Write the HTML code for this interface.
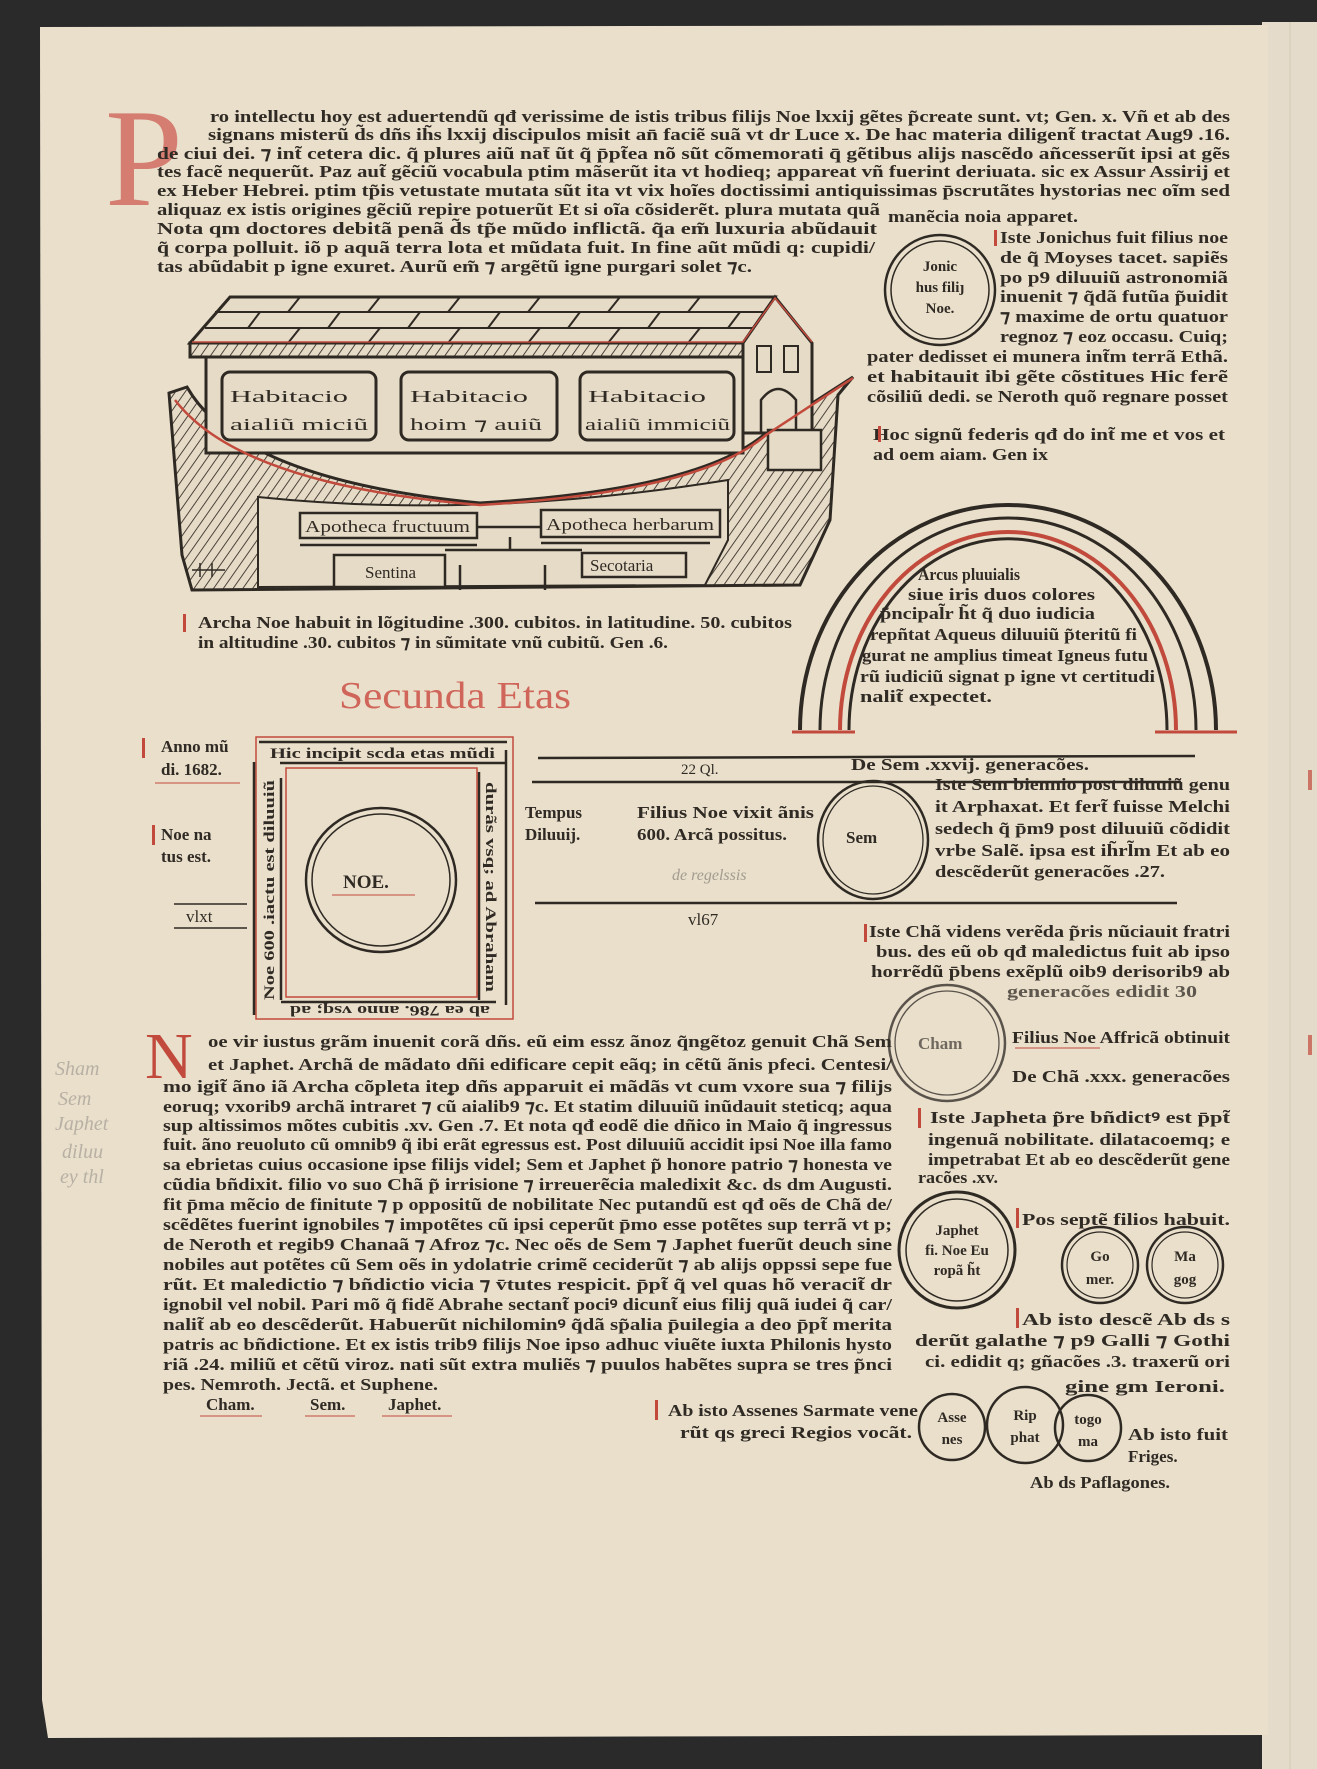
<!DOCTYPE html>
<html><head><meta charset="utf-8"><style>
html,body{margin:0;padding:0;background:#2a2a2b;}
body{width:1317px;height:1769px;position:relative;overflow:hidden;}
svg{position:absolute;left:0;top:0;}
.t{font-family:"Liberation Serif",serif;font-weight:bold;fill:#302a24;font-size:17px;}
.s{font-size:15px;}
</style></head><body>
<svg width="1317" height="1769" viewBox="0 0 1317 1769">
<defs>
<pattern id="h" width="8" height="8" patternUnits="userSpaceOnUse" patternTransform="rotate(35)"><rect width="8" height="8" fill="#e6dbc6"/><line x1="0" y1="0" x2="0" y2="8" stroke="#3a332c" stroke-width="1.8"/></pattern>
</defs>
<rect x="1262" y="22" width="55" height="1747" fill="#e4dbca"/>
<line x1="1290" y1="22" x2="1290" y2="1769" stroke="#d2c8b6" stroke-width="1"/>
<path d="M40 27 L1268 25 L1268 1735 L48 1738 L42 1700 Z" fill="#e9dfcb"/>

<!-- top initial -->
<text x="105" y="205" font-family="Liberation Serif,serif" font-size="140" fill="#d0655a" opacity="0.8" style="font-weight:normal">P</text>
<g class="t">
<text x="210" y="122" textLength="1020" lengthAdjust="spacingAndGlyphs">ro intellectu hoy est aduertendũ qđ verissime de istis tribus filijs Noe lxxij gẽtes p̃create sunt. vt; Gen. x. Vñ et ab des</text>
<text x="208" y="140" textLength="1022" lengthAdjust="spacingAndGlyphs">signans misterũ d̃s dñs ih̃s lxxij discipulos misit an̄ faciẽ suã vt dr Luce x. De hac materia diligent̃ tractat Aug9 .16.</text>
<text x="157" y="159" textLength="1073" lengthAdjust="spacingAndGlyphs">de ciui dei. ⁊ int̃ cetera dic. q̃ plures aiũ nat̄ ũt q̃ p̄pt̃ea nõ sũt cõmemorati q̄ gẽtibus alijs nascẽdo añcesserũt ipsi at gẽs</text>
<text x="157" y="177" textLength="1073" lengthAdjust="spacingAndGlyphs">tes facẽ nequerũt. Paz aut̃ gẽciũ vocabula ptim mãserũt ita vt hodieq; appareat vñ fuerint deriuata. sic ex Assur Assirij et</text>
<text x="157" y="196" textLength="1073" lengthAdjust="spacingAndGlyphs">ex Heber Hebrei. ptim tp̃is vetustate mutata sũt ita vt vix hoĩes doctissimi antiquissimas p̄scrutãtes hystorias nec oĩm sed</text>
<text x="157" y="215" textLength="723" lengthAdjust="spacingAndGlyphs">aliquaz ex istis origines gẽciũ repire potuerũt Et si oĩa cõsiderẽt. plura mutata quã</text>
<text x="888" y="222" textLength="190" lengthAdjust="spacingAndGlyphs">manẽcia noia apparet.</text>
<text x="157" y="234" textLength="720" lengthAdjust="spacingAndGlyphs">Nota qm doctores debitã penã d̃s tp̃e mũdo inflictã. q̃a em̃ luxuria abũdauit</text>
<text x="157" y="253" textLength="718" lengthAdjust="spacingAndGlyphs">q̃ corpa polluit. iõ p aquã terra lota et mũdata fuit. In fine aũt mũdi q: cupidi/</text>
<text x="157" y="272" textLength="595" lengthAdjust="spacingAndGlyphs">tas abũdabit p igne exuret. Aurũ em̃ ⁊ argẽtũ igne purgari solet ⁊c.</text>
</g>

<!-- Jonic circle -->
<circle cx="940" cy="290" r="55" fill="none" stroke="#2e2923" stroke-width="2.5"/>
<circle cx="940" cy="290" r="49" fill="none" stroke="#2e2923" stroke-width="1.5"/>
<g class="t s" text-anchor="middle">
<text x="940" y="271">Jonic</text><text x="940" y="292">hus filiȷ</text><text x="940" y="313">Noe.</text>
</g>
<g class="t">
<text x="1000" y="243" textLength="228" lengthAdjust="spacingAndGlyphs">Iste Jonichus fuit filius noe</text>
<text x="1000" y="263" textLength="228" lengthAdjust="spacingAndGlyphs">de q̃ Moyses tacet. sapiẽs</text>
<text x="1000" y="283" textLength="228" lengthAdjust="spacingAndGlyphs">po p9 diluuiũ astronomiã</text>
<text x="1000" y="302" textLength="228" lengthAdjust="spacingAndGlyphs">inuenit ⁊ q̃dã futũa p̃uidit</text>
<text x="1000" y="322" textLength="228" lengthAdjust="spacingAndGlyphs">⁊ maxime de ortu quatuor</text>
<text x="1000" y="342" textLength="228" lengthAdjust="spacingAndGlyphs">regnoz ⁊ eoz occasu. Cuiq;</text>
<text x="867" y="362" textLength="361" lengthAdjust="spacingAndGlyphs">pater dedisset ei munera int̃m terrã Ethã.</text>
<text x="867" y="382" textLength="361" lengthAdjust="spacingAndGlyphs">et habitauit ibi gẽte cõstitues Hic ferẽ</text>
<text x="867" y="402" textLength="361" lengthAdjust="spacingAndGlyphs">cõsiliũ dedi. se Neroth quõ regnare posset</text>
<text x="873" y="440" textLength="352" lengthAdjust="spacingAndGlyphs">Hoc signũ federis qđ do int̃ me et vos et</text>
<text x="873" y="460" textLength="175" lengthAdjust="spacingAndGlyphs">ad oem aiam. Gen ix</text>
</g>
<rect x="994" y="230" width="3" height="16" fill="#c24a3c"/>
<rect x="878" y="426" width="3" height="16" fill="#c24a3c"/>

<!-- Ark -->
<g stroke="#2e2923" stroke-width="3" fill="none">
<path d="M169 393 L187 387 Q240 480 480 503 Q700 490 766 433 L853 377 L838 395 L830 520 L800 585 L192 590 L182 555 Z" fill="url(#h)"/>
<path d="M258 497 Q480 520 728 480 L728 540 L705 585 L258 587 Z" fill="#e6dbc6" stroke-width="2"/>
<path d="M190 343 L230 297 L775 297 L743 343 Z" fill="#e6dbc6"/>
<path d="M215 312 L765 312 M205 328 L755 328" stroke-width="2"/>
<path d="M300 297 L288 312 M380 297 L368 312 M460 297 L448 312 M540 297 L528 312 M620 297 L608 312 M700 297 L688 312 M260 312 L248 328 M340 312 L328 328 M420 312 L408 328 M500 312 L488 328 M580 312 L568 328 M660 312 L648 328 M740 312 L728 328 M300 328 L288 343 M380 328 L368 343 M460 328 L448 343 M540 328 L528 343 M620 328 L608 343 M700 328 L688 343" stroke-width="2"/>
<rect x="190" y="343" width="553" height="14" fill="url(#h)"/>
<rect x="206" y="357" width="537" height="96" fill="#e6dbc6"/>
<rect x="222" y="372" width="154" height="68" rx="8"/>
<rect x="401" y="372" width="156" height="68" rx="8"/>
<rect x="580" y="372" width="154" height="68" rx="8"/>
<path d="M743 343 L775 297 L812 343 L812 433 L743 433 Z" fill="#e6dbc6"/>
<rect x="757" y="346" width="14" height="26" stroke-width="2"/>
<rect x="784" y="346" width="14" height="26" stroke-width="2"/>
<path d="M761 433 L761 400 Q778 378 796 400 L796 433" stroke-width="2.5"/>
<rect x="768" y="430" width="53" height="40" fill="#e6dbc6" stroke-width="2.5"/>
<rect x="300" y="513" width="177" height="25" fill="#e6dbc6" stroke-width="2.5"/>
<rect x="541" y="510" width="179" height="27" fill="#e6dbc6" stroke-width="2.5"/>
<rect x="334" y="555" width="111" height="32" fill="#e6dbc6" stroke-width="2.5"/>
<rect x="582" y="553" width="104" height="24" fill="#e6dbc6" stroke-width="2.5"/>
<path d="M477 527 L541 527 M510 537 L510 550 M445 550 L582 550 M460 565 L460 590 M545 565 L545 590 M300 545 L477 545 M541 543 L710 543" stroke-width="2.5"/>
<path d="M192 570 L225 570 M200 563 L200 577 M212 563 L212 577" stroke-width="1.5"/>
</g>
<path d="M175 400 Q240 485 480 505 Q700 492 766 435 L853 378" fill="none" stroke="#c24a3c" stroke-width="2.5"/>
<path d="M192 342 L743 342 L775 298 L812 342" fill="none" stroke="#c24a3c" stroke-width="1.5"/>
<g class="t" font-size="21" style="font-weight:normal">
<text x="230" y="402" textLength="118" lengthAdjust="spacingAndGlyphs">Habitacio</text><text x="230" y="430" textLength="138" lengthAdjust="spacingAndGlyphs">aialiũ miciũ</text>
<text x="410" y="402" textLength="118" lengthAdjust="spacingAndGlyphs">Habitacio</text><text x="410" y="430" textLength="132" lengthAdjust="spacingAndGlyphs">hoim ⁊ auiũ</text>
<text x="588" y="402" textLength="118" lengthAdjust="spacingAndGlyphs">Habitacio</text><text x="585" y="430" textLength="145" lengthAdjust="spacingAndGlyphs">aialiũ immiciũ</text>
</g>
<g class="t" font-size="17" style="font-weight:normal">
<text x="305" y="532" textLength="165" lengthAdjust="spacingAndGlyphs">Apotheca fructuum</text>
<text x="546" y="530" textLength="168" lengthAdjust="spacingAndGlyphs">Apotheca herbarum</text>
<text x="365" y="578">Sentina</text>
<text x="590" y="571">Secotaria</text>
</g>
<g class="t">
<text x="198" y="628" textLength="594" lengthAdjust="spacingAndGlyphs">Archa Noe habuit in lõgitudine .300. cubitos. in latitudine. 50. cubitos</text>
<text x="198" y="648" textLength="470" lengthAdjust="spacingAndGlyphs">in altitudine .30. cubitos ⁊ in sũmitate vnũ cubitũ. Gen .6.</text>
</g>
<rect x="183" y="614" width="3" height="18" fill="#c24a3c"/>
<text x="339" y="708" font-family="Liberation Serif,serif" font-size="38" fill="#d0655a" textLength="232" lengthAdjust="spacingAndGlyphs">Secunda Etas</text>

<!-- Rainbow -->
<g fill="none">
<path d="M800 730 A208 225 0 0 1 1216 730" stroke="#2e2923" stroke-width="4"/>
<path d="M820 730 A188 212 0 0 1 1196 730" stroke="#2e2923" stroke-width="3"/>
<path d="M840 730 A168 198 0 0 1 1176 730" stroke="#c24a3c" stroke-width="4"/>
<path d="M849 730 A158 190 0 0 1 1167 730" stroke="#2e2923" stroke-width="3"/>
<path d="M792 732 L855 732 M1155 732 L1237 732" stroke="#c24a3c" stroke-width="3"/>
</g>
<g class="t">
<text x="918" y="580" textLength="102" lengthAdjust="spacingAndGlyphs">Arcus pluuialis</text>
<text x="908" y="600" textLength="187" lengthAdjust="spacingAndGlyphs">siue iris duos colores</text>
<text x="880" y="619" textLength="215" lengthAdjust="spacingAndGlyphs">p̃ncipal̃r h̃t q̃ duo iudicia</text>
<text x="870" y="640" textLength="267" lengthAdjust="spacingAndGlyphs">repñtat Aqueus diluuiũ p̃teritũ fi</text>
<text x="862" y="661" textLength="286" lengthAdjust="spacingAndGlyphs">gurat ne amplius timeat Igneus futu</text>
<text x="860" y="682" textLength="295" lengthAdjust="spacingAndGlyphs">rũ iudiciũ signat p igne vt certitudi</text>
<text x="860" y="702" textLength="132" lengthAdjust="spacingAndGlyphs">nalit̃ expectet.</text>
</g>

<!-- Left margin notes -->
<g class="t">
<text x="161" y="752">Anno mũ</text><text x="161" y="775">di. 1682.</text>
<text x="161" y="840">Noe na</text><text x="161" y="862">tus est.</text>
<text x="186" y="922" style="font-weight:normal">vlxt</text>
</g>
<line x1="174" y1="904" x2="247" y2="904" stroke="#2e2923" stroke-width="1.5"/>
<line x1="174" y1="928" x2="247" y2="928" stroke="#2e2923" stroke-width="1.5"/>
<line x1="155" y1="783" x2="240" y2="783" stroke="#c24a3c" stroke-width="1"/>
<rect x="142" y="738" width="3" height="20" fill="#c24a3c"/><rect x="152" y="825" width="3" height="20" fill="#c24a3c"/>

<!-- Square box -->
<g fill="none">
<rect x="256" y="737" width="257" height="282" stroke="#c24a3c" stroke-width="1.5"/>
<line x1="259" y1="742" x2="507" y2="742" stroke="#2e2923" stroke-width="2.5"/>
<line x1="280" y1="763" x2="507" y2="763" stroke="#2e2923" stroke-width="2.5"/>
<line x1="254" y1="762" x2="254" y2="1015" stroke="#2e2923" stroke-width="2.5"/>
<line x1="281" y1="778" x2="281" y2="1000" stroke="#2e2923" stroke-width="2.5"/>
<line x1="479" y1="772" x2="479" y2="1000" stroke="#2e2923" stroke-width="2.5"/>
<line x1="506" y1="750" x2="506" y2="1005" stroke="#2e2923" stroke-width="2.5"/>
<line x1="281" y1="1002" x2="496" y2="1002" stroke="#2e2923" stroke-width="2.5"/>
<rect x="286" y="768" width="191" height="229" stroke="#c24a3c" stroke-width="1.5"/>
<ellipse cx="381" cy="880" rx="75" ry="72" stroke="#2e2923" stroke-width="2.5"/>
<ellipse cx="381" cy="880" rx="69" ry="66" stroke="#2e2923" stroke-width="1.5"/>
</g>
<g class="t s">
<text x="270" y="758" textLength="225" lengthAdjust="spacingAndGlyphs">Hic incipit scda etas mũdi</text>
<text x="343" y="888" font-size="19">NOE.</text>
<line x1="332" y1="895" x2="415" y2="895" stroke="#c24a3c"/>
<text transform="translate(274,1000) rotate(-90)" textLength="220" lengthAdjust="spacingAndGlyphs">Noe 600 .iactu est diluuiũ</text>
<text transform="translate(486,782) rotate(90)" textLength="210" lengthAdjust="spacingAndGlyphs">durãs vsq; ad Abraham</text>
<text transform="translate(490,1006) rotate(180)" textLength="200" lengthAdjust="spacingAndGlyphs">ab ea 786. anno vsq; ad</text>
</g>

<!-- timeline -->
<g stroke="#2e2923" stroke-width="2.5">
<line x1="538" y1="758" x2="1195" y2="756"/>
<line x1="532" y1="782" x2="1181" y2="782"/>
<line x1="535" y1="903" x2="1177" y2="903"/>
</g>
<g class="t">
<text x="681" y="774" class="t s" style="font-weight:normal">22 Ql.</text>
<text x="851" y="770" textLength="238" lengthAdjust="spacingAndGlyphs">De Sem .xxvij. generacões.</text>
<text x="525" y="818">Tempus</text><text x="525" y="840">Diluuij.</text>
<text x="637" y="818" textLength="177" lengthAdjust="spacingAndGlyphs">Filius Noe vixit ãnis</text><text x="637" y="840" textLength="150" lengthAdjust="spacingAndGlyphs">600. Arcã possitus.</text>
<text x="688" y="925" style="font-weight:normal">vl67</text>
</g>
<text x="672" y="880" font-family="Liberation Serif,serif" font-style="italic" font-size="16" fill="#a39b90">de regelssis</text>
<ellipse cx="873" cy="840" rx="55" ry="59" fill="none" stroke="#2e2923" stroke-width="2.5"/>
<ellipse cx="873" cy="840" rx="50" ry="54" fill="none" stroke="#2e2923" stroke-width="1.3"/>
<text x="846" y="843" class="t">Sem</text>
<g class="t">
<text x="935" y="790" textLength="295" lengthAdjust="spacingAndGlyphs">Iste Sem biennio post diluuiũ genu</text>
<text x="935" y="812" textLength="295" lengthAdjust="spacingAndGlyphs">it Arphaxat. Et fert̃ fuisse Melchi</text>
<text x="935" y="834" textLength="295" lengthAdjust="spacingAndGlyphs">sedech q̃ p̄m9 post diluuiũ cõdidit</text>
<text x="935" y="856" textLength="295" lengthAdjust="spacingAndGlyphs">vrbe Salẽ. ipsa est ih̃rl̃m Et ab eo</text>
<text x="935" y="877" textLength="230" lengthAdjust="spacingAndGlyphs">descẽderũt generacões .27.</text>
<text x="869" y="937" textLength="361" lengthAdjust="spacingAndGlyphs">Iste Chã videns verẽda p̃ris nũciauit fratri</text>
<text x="876" y="957" textLength="354" lengthAdjust="spacingAndGlyphs">bus. des eũ ob qđ maledictus fuit ab ipso</text>
<text x="871" y="977" textLength="359" lengthAdjust="spacingAndGlyphs">horrẽdũ p̄bens exẽplũ oib9 derisorib9 ab</text>
<text x="1007" y="997" textLength="190" lengthAdjust="spacingAndGlyphs" opacity="0.75">generacões edidit 30</text>
</g>
<rect x="864" y="924" width="3" height="18" fill="#c24a3c"/>

<!-- Cham -->
<circle cx="947" cy="1043" r="58" fill="none" stroke="#5a534b" stroke-width="2.5"/>
<circle cx="947" cy="1043" r="52" fill="none" stroke="#5a534b" stroke-width="1.3"/>
<text x="918" y="1049" class="t" opacity="0.65">Cham</text>
<g class="t">
<text x="1012" y="1043" textLength="218" lengthAdjust="spacingAndGlyphs">Filius Noe Affricã obtinuit</text>
<text x="1012" y="1082" textLength="218" lengthAdjust="spacingAndGlyphs">De Chã .xxx. generacões</text>
</g>
<line x1="1015" y1="1048" x2="1100" y2="1048" stroke="#c24a3c"/>

<!-- N initial + main text -->
<text x="145" y="1078" font-family="Liberation Serif,serif" font-size="66" fill="#c24a3c">N</text>
<g class="t" font-size="16">
<text x="208" y="1047" textLength="684" lengthAdjust="spacingAndGlyphs">oe vir iustus grãm inuenit corã dñs. eũ eim essz ãnoz q̃ngẽtoz genuit Chã Sem</text>
<text x="208" y="1070" textLength="684" lengthAdjust="spacingAndGlyphs">et Japhet. Archã de mãdato dñi edificare cepit eãq; in cẽtũ ãnis pfeci. Centesi/</text>
<text x="163" y="1092" textLength="729" lengthAdjust="spacingAndGlyphs">mo igit̃ ãno iã Archa cõpleta iteᵱ dñs apparuit ei mãdãs vt cum vxore sua ⁊ filijs</text>
<text x="163" y="1112" textLength="729" lengthAdjust="spacingAndGlyphs">eoruq; vxorib9 archã intraret ⁊ cũ aialib9 ⁊c. Et statim diluuiũ inũdauit steticq; aqua</text>
<text x="163" y="1131" textLength="729" lengthAdjust="spacingAndGlyphs">sup altissimos mõtes cubitis .xv. Gen .7. Et nota qđ eodẽ die dñico in Maio q̃ ingressus</text>
<text x="163" y="1150" textLength="729" lengthAdjust="spacingAndGlyphs">fuit. ãno reuoluto cũ omnib9 q̃ ibi erãt egressus est. Post diluuiũ accidit ipsi Noe illa famo</text>
<text x="163" y="1170" textLength="729" lengthAdjust="spacingAndGlyphs">sa ebrietas cuius occasione ipse filijs videl; Sem et Japhet p̃ honore patrio ⁊ honesta ve</text>
<text x="163" y="1190" textLength="729" lengthAdjust="spacingAndGlyphs">cũdia bñdixit. filio vo suo Chã p̃ irrisione ⁊ irreuerẽcia maledixit &amp;c. ds dm Augusti.</text>
<text x="163" y="1210" textLength="729" lengthAdjust="spacingAndGlyphs">fit p̄ma mẽcio de finitute ⁊ p oppositũ de nobilitate Nec putandũ est qđ oẽs de Chã de/</text>
<text x="163" y="1230" textLength="729" lengthAdjust="spacingAndGlyphs">scẽdẽtes fuerint ignobiles ⁊ impotẽtes cũ ipsi ceperũt p̄mo esse potẽtes sup terrã vt p;</text>
<text x="163" y="1250" textLength="729" lengthAdjust="spacingAndGlyphs">de Neroth et regib9 Chanaã ⁊ Afroz ⁊c. Nec oẽs de Sem ⁊ Japhet fuerũt deuch sine</text>
<text x="163" y="1270" textLength="729" lengthAdjust="spacingAndGlyphs">nobiles aut potẽtes cũ Sem oẽs in ydolatrie crimẽ ceciderũt ⁊ ab alijs oppssi sepe fue</text>
<text x="163" y="1290" textLength="729" lengthAdjust="spacingAndGlyphs">rũt. Et maledictio ⁊ bñdictio vicia ⁊ v̄tutes respicit. p̄pt̃ q̃ vel quas hõ veracit̃ dr</text>
<text x="163" y="1310" textLength="729" lengthAdjust="spacingAndGlyphs">ignobil vel nobil. Pari mõ q̃ fidẽ Abrahe sectant̃ pociꝰ dicunt̃ eius filij quã iudei q̃ car/</text>
<text x="163" y="1330" textLength="729" lengthAdjust="spacingAndGlyphs">nalit̃ ab eo descẽderũt. Habuerũt nichilominꝰ q̃dã sp̃alia p̄uilegia a deo p̄pt̃ merita</text>
<text x="163" y="1350" textLength="729" lengthAdjust="spacingAndGlyphs">patris ac bñdictione. Et ex istis trib9 filijs Noe ipso adhuc viuẽte iuxta Philonis hysto</text>
<text x="163" y="1370" textLength="729" lengthAdjust="spacingAndGlyphs">riã .24. miliũ et cẽtũ viroz. nati sũt extra muliẽs ⁊ puulos habẽtes supra se tres p̃nci</text>
<text x="163" y="1390" textLength="275" lengthAdjust="spacingAndGlyphs">pes. Nemroth. Jectã. et Suphene.</text>
<text x="206" y="1410">Cham.</text><text x="310" y="1410">Sem.</text><text x="388" y="1410">Japhet.</text>
</g>
<g stroke="#c24a3c" stroke-width="1"><line x1="200" y1="1416" x2="262" y2="1416"/><line x1="305" y1="1416" x2="355" y2="1416"/><line x1="382" y1="1416" x2="452" y2="1416"/></g>
<g font-family="Liberation Serif,serif" font-style="italic" font-size="20" fill="#b8b0a4">
<text x="55" y="1075">Sham</text><text x="58" y="1105">Sem</text><text x="55" y="1130">Japhet</text><text x="62" y="1158">diluu</text><text x="60" y="1183">ey thl</text>
</g>

<!-- Japhet section -->
<g class="t">
<text x="930" y="1123" textLength="300" lengthAdjust="spacingAndGlyphs">Iste Japheta p̃re bñdictꝰ est p̄pt̃</text>
<text x="928" y="1145" textLength="302" lengthAdjust="spacingAndGlyphs">ingenuã nobilitate. dilatacoemq; e</text>
<text x="928" y="1165" textLength="302" lengthAdjust="spacingAndGlyphs">impetrabat Et ab eo descẽderũt gene</text>
<text x="918" y="1183" textLength="80" lengthAdjust="spacingAndGlyphs">racões .xv.</text>
<text x="1022" y="1225" textLength="208" lengthAdjust="spacingAndGlyphs">Pos septẽ filios habuit.</text>
<text x="1022" y="1325" textLength="208" lengthAdjust="spacingAndGlyphs">Ab isto descẽ Ab ds s</text>
<text x="915" y="1346" textLength="315" lengthAdjust="spacingAndGlyphs">derũt galathe ⁊ p9 Galli ⁊ Gothi</text>
<text x="925" y="1367" textLength="305" lengthAdjust="spacingAndGlyphs">ci. edidit q; gñacões .3. traxerũ ori</text>
<text x="1065" y="1392" textLength="160" lengthAdjust="spacingAndGlyphs">gine gm Ieroni.</text>
</g>
<circle cx="957" cy="1250" r="58" fill="none" stroke="#2e2923" stroke-width="3"/>
<circle cx="957" cy="1250" r="51" fill="none" stroke="#2e2923" stroke-width="1.5"/>
<g class="t s" text-anchor="middle">
<text x="957" y="1235">Japhet</text><text x="957" y="1255">fi. Noe Eu</text><text x="957" y="1275">ropã h̃t</text>
</g>
<circle cx="1100" cy="1265" r="38" fill="none" stroke="#2e2923" stroke-width="2.5"/>
<circle cx="1185" cy="1265" r="38" fill="none" stroke="#2e2923" stroke-width="2.5"/>
<circle cx="1100" cy="1265" r="33" fill="none" stroke="#2e2923" stroke-width="1.2"/>
<circle cx="1185" cy="1265" r="33" fill="none" stroke="#2e2923" stroke-width="1.2"/>
<g class="t s" text-anchor="middle">
<text x="1100" y="1261">Go</text><text x="1100" y="1284">mer.</text>
<text x="1185" y="1261">Ma</text><text x="1185" y="1284">gog</text>
</g>

<!-- bottom -->
<g class="t">
<text x="668" y="1416" textLength="250" lengthAdjust="spacingAndGlyphs">Ab isto Assenes Sarmate vene</text>
<text x="680" y="1438" textLength="232" lengthAdjust="spacingAndGlyphs">rũt qs greci Regios vocãt.</text>
<text x="1128" y="1440" textLength="100" lengthAdjust="spacingAndGlyphs">Ab isto fuit</text>
<text x="1128" y="1462">Friges.</text>
<text x="1030" y="1488" textLength="140" lengthAdjust="spacingAndGlyphs">Ab ds Paflagones.</text>
</g>
<rect x="655" y="1400" width="3" height="20" fill="#c24a3c"/><rect x="1016" y="1308" width="3" height="20" fill="#c24a3c"/><rect x="1016" y="1208" width="3" height="20" fill="#c24a3c"/><rect x="918" y="1108" width="3" height="20" fill="#c24a3c"/>
<g fill="none" stroke="#2e2923" stroke-width="2.5">
<circle cx="952" cy="1427" r="33"/><circle cx="1025" cy="1425" r="38"/><circle cx="1088" cy="1428" r="33"/>
</g>
<g class="t s" text-anchor="middle">
<text x="952" y="1422">Asse</text><text x="952" y="1444">nes</text>
<text x="1025" y="1420">Rip</text><text x="1025" y="1442">phat</text>
<text x="1088" y="1424">togo</text><text x="1088" y="1446">ma</text>
</g>
<rect x="1308" y="770" width="4" height="20" fill="#c24a3c" opacity="0.7"/>
<rect x="1308" y="1035" width="4" height="20" fill="#c24a3c" opacity="0.7"/>
</svg>
</body></html>
